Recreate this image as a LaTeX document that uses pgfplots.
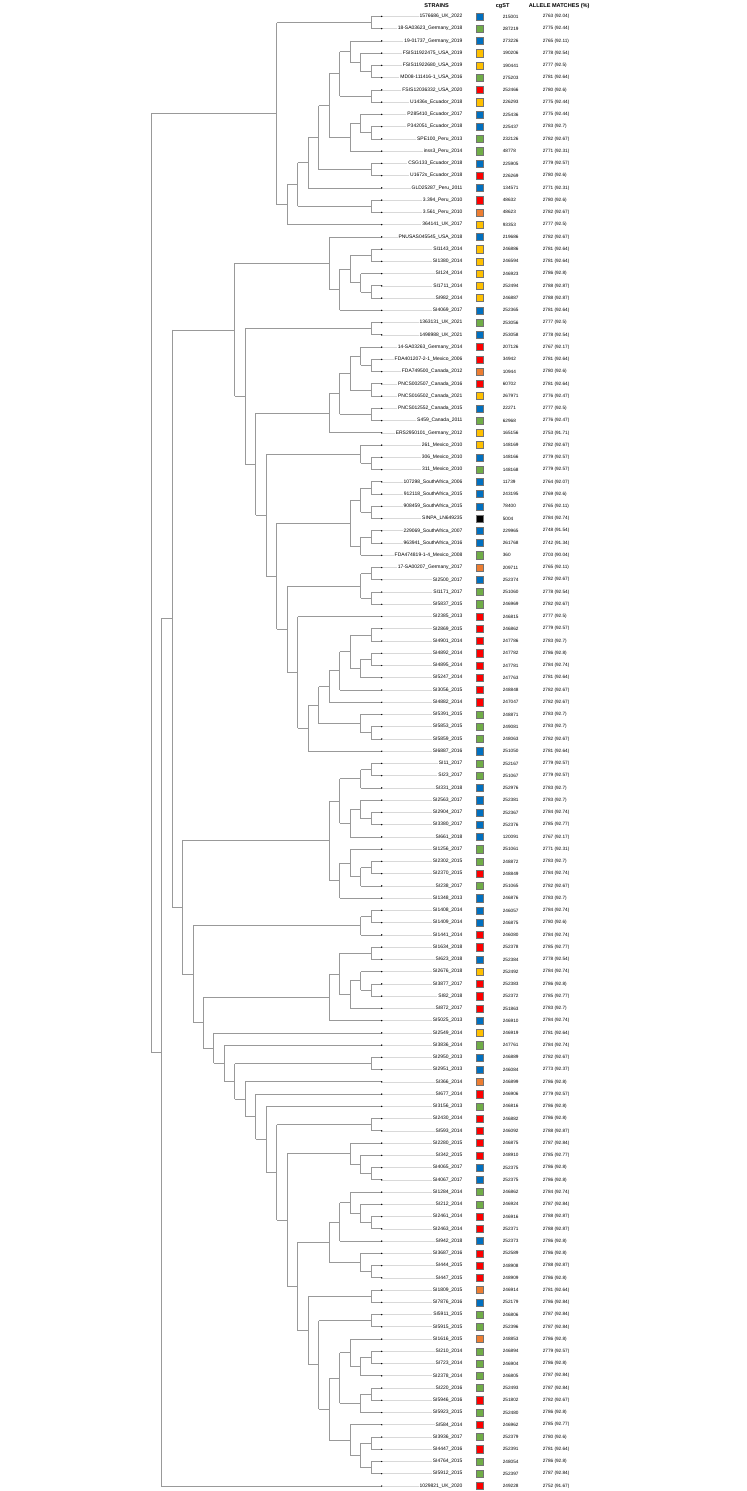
\documentclass[border=0pt]{standalone}
\usepackage{fontspec}
\setmainfont{Liberation Sans}
\usepackage{pgfplots}
\usepackage{pgfplotstable}
\pgfplotsset{compat=1.18}
\definecolor{cblue}{HTML}{0070C0}
\definecolor{cgreen}{HTML}{70AD47}
\definecolor{cyellow}{HTML}{FFC000}
\definecolor{cred}{HTML}{FF0000}
\definecolor{corange}{HTML}{ED7D31}
\definecolor{treec}{HTML}{999999}
\definecolor{alignc}{HTML}{D9D9D9}

\pgfplotstableread[col sep=comma]{
i,name,c,cgst,al
1,1576686\_UK\_2022,b,215001,2763 (92.04)
2,18-SA03623\_Germany\_2018,g,287219,2775 (92.44)
3,19-01737\_Germany\_2019,b,273226,2765 (92.11)
4,FSIS11922475\_USA\_2019,y,190206,2778 (92.54)
5,FSIS11922680\_USA\_2019,y,190441,2777 (92.5)
6,MD08-111416-1\_USA\_2016,g,275203,2781 (92.64)
7,FSIS12036332\_USA\_2020,r,252466,2780 (92.6)
8,U1436s\_Ecuador\_2018,y,226293,2775 (92.44)
9,P285410\_Ecuador\_2017,b,225436,2775 (92.44)
10,P342051\_Ecuador\_2018,b,225437,2783 (92.7)
11,SPE100\_Peru\_2013,g,232126,2782 (92.67)
12,inss3\_Peru\_2014,g,48778,2771 (92.31)
13,CSG133\_Ecuador\_2018,b,225905,2779 (92.57)
14,U1672s\_Ecuador\_2018,r,226269,2780 (92.6)
15,GLD25287\_Peru\_2011,b,134571,2771 (92.31)
16,3.394\_Peru\_2010,r,48632,2780 (92.6)
17,3.561\_Peru\_2010,o,48623,2782 (92.67)
18,364141\_UK\_2017,y,93353,2777 (92.5)
19,PNUSAS045545\_USA\_2018,b,219686,2782 (92.67)
20,SI1143\_2014,y,246886,2781 (92.64)
21,SI1380\_2014,y,246594,2781 (92.64)
22,SI124\_2014,y,246923,2786 (92.8)
23,SI1711\_2014,y,252494,2788 (92.87)
24,SI982\_2014,y,246887,2788 (92.87)
25,SI4069\_2017,b,252365,2781 (92.64)
26,1363131\_UK\_2021,g,253056,2777 (92.5)
27,1498988\_UK\_2021,b,253058,2778 (92.54)
28,14-SA03263\_Germany\_2014,r,207126,2767 (92.17)
29,FDA401207-2-1\_Mexico\_2006,r,34942,2781 (92.64)
30,FDA749500\_Canada\_2012,o,10944,2780 (92.6)
31,PNCS002507\_Canada\_2016,r,60702,2781 (92.64)
32,PNCS016502\_Canada\_2021,y,267971,2776 (92.47)
33,PNCS012552\_Canada\_2015,b,22271,2777 (92.5)
34,S459\_Canada\_2011,g,62968,2776 (92.47)
35,ERS2950101\_Germany\_2012,y,165156,2753 (91.71)
36,261\_Mexico\_2010,y,148169,2782 (92.67)
37,306\_Mexico\_2010,b,148166,2779 (92.57)
38,311\_Mexico\_2010,g,148168,2779 (92.57)
39,107298\_SouthAfrica\_2006,b,11739,2764 (92.07)
40,912118\_SouthAfrica\_2015,b,243195,2769 (92.6)
41,908459\_SouthAfrica\_2015,b,78400,2765 (92.11)
42,SINPA\_LN649235,k,5004,2784 (92.74)
43,229069\_SouthAfrica\_2007,b,229965,2748 (91.54)
44,963941\_SouthAfrica\_2016,b,261768,2742 (91.34)
45,FDA474819-1-4\_Mexico\_2008,g,360,2703 (90.04)
46,17-SA00207\_Germany\_2017,o,209711,2765 (92.11)
47,SI2500\_2017,b,252374,2782 (92.67)
48,SI1171\_2017,g,251060,2778 (92.54)
49,SI5837\_2015,g,246969,2782 (92.67)
50,SI2385\_2013,r,246815,2777 (92.5)
51,SI2869\_2015,r,246862,2779 (92.57)
52,SI4901\_2014,r,247786,2783 (92.7)
53,SI4892\_2014,r,247782,2786 (92.8)
54,SI4895\_2014,r,247781,2784 (92.74)
55,SI5247\_2014,r,247763,2781 (92.64)
56,SI3056\_2015,r,248848,2782 (92.67)
57,SI4882\_2014,r,247047,2782 (92.67)
58,SI5391\_2015,g,248871,2783 (92.7)
59,SI5853\_2015,g,249081,2783 (92.7)
60,SI5859\_2015,g,248063,2782 (92.67)
61,SI6887\_2016,b,251050,2781 (92.64)
62,SI11\_2017,g,252167,2779 (92.57)
63,SI23\_2017,g,251067,2779 (92.57)
64,SI331\_2018,b,252976,2783 (92.7)
65,SI2563\_2017,b,252381,2783 (92.7)
66,SI2904\_2017,b,252367,2784 (92.74)
67,SI3380\_2017,b,252376,2785 (92.77)
68,SI661\_2018,b,120091,2767 (92.17)
69,SI1256\_2017,g,251061,2771 (92.31)
70,SI2302\_2015,g,248872,2783 (92.7)
71,SI2370\_2015,r,248849,2784 (92.74)
72,SI238\_2017,g,251065,2782 (92.67)
73,SI1348\_2013,b,246876,2783 (92.7)
74,SI1408\_2014,b,246057,2784 (92.74)
75,SI1409\_2014,b,246875,2780 (92.6)
76,SI1441\_2014,r,246080,2784 (92.74)
77,SI1634\_2018,r,252378,2785 (92.77)
78,SI623\_2018,b,252384,2778 (92.54)
79,SI2676\_2018,y,252492,2784 (92.74)
80,SI3877\_2017,r,252383,2786 (92.8)
81,SI82\_2018,r,252372,2785 (92.77)
82,SI872\_2017,r,251863,2783 (92.7)
83,SI5025\_2013,b,246910,2784 (92.74)
84,SI2549\_2014,y,246919,2781 (92.64)
85,SI3836\_2014,g,247761,2784 (92.74)
86,SI2950\_2013,b,246889,2782 (92.67)
87,SI2951\_2013,b,246084,2773 (92.37)
88,SI366\_2014,o,246899,2786 (92.8)
89,SI677\_2014,r,246906,2779 (92.57)
90,SI3156\_2013,g,246816,2786 (92.8)
91,SI2430\_2014,r,246882,2786 (92.8)
92,SI593\_2014,r,246092,2788 (92.87)
93,SI2280\_2015,r,246875,2787 (92.84)
94,SI342\_2015,r,248910,2785 (92.77)
95,SI4065\_2017,b,252375,2786 (92.8)
96,SI4067\_2017,b,252375,2786 (92.8)
97,SI1284\_2014,g,246862,2784 (92.74)
98,SI212\_2014,g,246924,2787 (92.84)
99,SI2461\_2014,r,246916,2788 (92.87)
100,SI2463\_2014,r,252371,2788 (92.87)
101,SI942\_2018,b,252373,2786 (92.8)
102,SI3687\_2016,r,252589,2786 (92.8)
103,SI444\_2015,r,248908,2788 (92.87)
104,SI447\_2015,r,248909,2786 (92.8)
105,SI1809\_2015,o,246914,2781 (92.64)
106,SI7876\_2016,b,252179,2786 (92.84)
107,SI5911\_2015,g,246806,2787 (92.84)
108,SI5915\_2015,g,252396,2787 (92.84)
109,SI1616\_2015,o,248853,2786 (92.8)
110,SI210\_2014,g,246894,2779 (92.57)
111,SI723\_2014,g,246904,2786 (92.8)
112,SI2378\_2014,g,246805,2787 (92.84)
113,SI220\_2016,g,252493,2787 (92.84)
114,SI5946\_2016,r,251802,2782 (92.67)
115,SI5923\_2015,g,252480,2786 (92.8)
116,SI584\_2014,r,246962,2785 (92.77)
117,SI3936\_2017,g,252379,2780 (92.6)
118,SI4447\_2016,r,252391,2781 (92.64)
119,SI4764\_2015,g,248054,2786 (92.8)
120,SI5912\_2015,g,252397,2787 (92.84)
121,1029821\_UK\_2020,r,249228,2752 (91.67)
}\leaves

% tree edges: child (x,y) -> parent (px,py); x = 382 - 10.5*height, y = leaf index
\pgfplotstableread{
x y px py
382 1 371.5 1.5
382 2 371.5 1.5
371.5 1.5 277 8.9307
382 5 371.5 5.5
382 6 371.5 5.5
371.5 5.5 361 4.75
382 4 361 4.75
361 4.75 350.5 3.875
382 3 350.5 3.875
350.5 3.875 340 5.6875
382 7 371.5 7.5
382 8 371.5 7.5
371.5 7.5 340 5.6875
340 5.6875 329.5 8.28125
382 10 371.5 10.5
382 11 371.5 10.5
371.5 10.5 361 9.75
382 9 361 9.75
361 9.75 350.5 10.875
382 12 350.5 10.875
350.5 10.875 329.5 8.28125
329.5 8.28125 319 10.890625
382 13 371.5 13.5
382 14 371.5 13.5
371.5 13.5 319 10.890625
319 10.890625 308.5 12.9453
382 15 308.5 12.9453
308.5 12.9453 298 14.7227
382 16 371.5 16.5
382 17 371.5 16.5
371.5 16.5 298 14.7227
298 14.7227 287.5 16.3613
382 18 287.5 16.3613
287.5 16.3613 277 8.9307
277 8.9307 151 47.26
382 20 371.5 20.5
382 21 371.5 20.5
382 23 371.5 23.5
382 24 371.5 23.5
371.5 23.5 361 22.75
382 22 361 22.75
371.5 20.5 350.5 21.625
361 22.75 350.5 21.625
350.5 21.625 340 23.3125
382 25 340 23.3125
340 23.3125 329.5 21.156
382 19 329.5 21.156
329.5 21.156 235 26.595
382 26 371.5 26.5
382 27 371.5 26.5
371.5 26.5 245.5 32.033
382 29 371.5 29.5
382 30 371.5 29.5
371.5 29.5 361 28.75
382 28 361 28.75
382 31 371.5 31.5
382 32 371.5 31.5
361 28.75 350.5 30.125
371.5 31.5 350.5 30.125
350.5 30.125 340 31.8125
382 33 371.5 33.5
382 34 371.5 33.5
371.5 33.5 340 31.8125
340 31.8125 329.5 33.406
382 35 329.5 33.406
329.5 33.406 256 37.566
382 37 371.5 37.5
382 38 371.5 37.5
371.5 37.5 361 36.75
382 36 361 36.75
361 36.75 266.5 41.726
382 39 371.5 39.5
382 40 371.5 39.5
382 41 371.5 41.5
382 42 371.5 41.5
371.5 39.5 361 40.5
371.5 41.5 361 40.5
382 43 371.5 43.5
382 44 371.5 43.5
371.5 43.5 361 44.25
382 45 361 44.25
361 40.5 350.5 42.375
361 44.25 350.5 42.375
350.5 42.375 277 46.702
382 46 371.5 46.5
382 47 371.5 46.5
382 48 371.5 48.5
382 49 371.5 48.5
371.5 46.5 361 47.5
371.5 48.5 361 47.5
361 47.5 287.5 51.029
382 50 298 54.559
382 51 371.5 51.5
382 52 371.5 51.5
382 53 371.5 53.5
382 54 371.5 53.5
371.5 53.5 361 54.25
382 55 361 54.25
371.5 51.5 350.5 52.875
361 54.25 350.5 52.875
350.5 52.875 340 54.4375
382 56 340 54.4375
340 54.4375 329.5 55.719
382 57 329.5 55.719
329.5 55.719 319 57.234
382 59 371.5 59.5
382 60 371.5 59.5
371.5 59.5 361 58.75
382 58 361 58.75
361 58.75 319 57.234
319 57.234 308.5 59.117
382 61 308.5 59.117
308.5 59.117 298 54.559
298 54.559 287.5 51.029
287.5 51.029 277 46.702
277 46.702 266.5 41.726
266.5 41.726 256 37.566
256 37.566 245.5 32.033
245.5 32.033 235 26.595
235 26.595 172 50.178
382 62 371.5 62.5
382 63 371.5 62.5
371.5 62.5 361 63.25
382 64 361 63.25
382 66 371.5 66.5
382 67 371.5 66.5
371.5 66.5 361 65.75
382 65 361 65.75
361 65.75 350.5 66.875
382 68 350.5 66.875
361 63.25 340 65.0625
350.5 66.875 340 65.0625
340 65.0625 329.5 68.3125
382 70 371.5 70.5
382 71 371.5 70.5
371.5 70.5 361 71.25
382 72 361 71.25
361 71.25 350.5 70.125
382 69 350.5 70.125
350.5 70.125 340 71.5625
382 73 340 71.5625
340 71.5625 329.5 68.3125
329.5 68.3125 182.5 73.7608
382 74 371.5 74.5
382 75 371.5 74.5
371.5 74.5 361 75.25
382 76 361 75.25
361 75.25 193 79.209
382 77 371.5 77.5
382 78 371.5 77.5
382 80 371.5 80.5
382 81 371.5 80.5
371.5 80.5 361 79.75
382 79 361 79.75
361 79.75 350.5 80.875
382 82 350.5 80.875
371.5 77.5 340 79.1875
350.5 80.875 340 79.1875
340 79.1875 329.5 81.094
382 83 329.5 81.094
329.5 81.094 203.5 83.167
382 84 214 85.240
382 85 224.5 86.481
382 86 371.5 86.5
382 87 371.5 86.5
371.5 86.5 235 87.962
382 88 245.5 89.424
382 89 256 90.848
382 90 266.5 92.697
382 91 371.5 91.5
382 92 371.5 91.5
371.5 91.5 277 95.393
382 95 371.5 95.5
382 96 371.5 95.5
371.5 95.5 361 94.75
382 94 361 94.75
361 94.75 350.5 93.875
382 93 350.5 93.875
350.5 93.875 287.5 99.287
382 99 371.5 99.5
382 100 371.5 99.5
371.5 99.5 361 98.75
382 98 361 98.75
361 98.75 350.5 97.875
382 97 350.5 97.875
350.5 97.875 340 99.4375
382 101 340 99.4375
340 99.4375 329.5 101.094
382 103 371.5 103.5
382 104 371.5 103.5
371.5 103.5 361 102.75
382 102 361 102.75
361 102.75 329.5 101.094
329.5 101.094 298 104.699
382 105 371.5 105.5
382 106 371.5 105.5
371.5 105.5 308.5 108.305
382 107 371.5 107.5
382 108 371.5 107.5
371.5 107.5 319 111.109
382 110 371.5 110.5
382 111 371.5 110.5
371.5 110.5 361 111.25
382 112 361 111.25
361 111.25 350.5 110.125
382 109 350.5 110.125
382 113 371.5 113.5
382 114 371.5 113.5
371.5 113.5 361 114.25
382 115 361 114.25
350.5 110.125 340 112.1875
361 114.25 340 112.1875
382 117 371.5 117.5
382 118 371.5 117.5
382 119 371.5 119.5
382 120 371.5 119.5
371.5 117.5 361 118.5
371.5 119.5 361 118.5
361 118.5 350.5 117.25
382 116 350.5 117.25
340 112.1875 329.5 114.719
350.5 117.25 329.5 114.719
329.5 114.719 319 111.109
319 111.109 308.5 108.305
308.5 108.305 298 104.699
298 104.699 287.5 99.287
287.5 99.287 277 95.393
277 95.393 266.5 92.697
266.5 92.697 256 90.848
256 90.848 245.5 89.424
245.5 89.424 235 87.962
235 87.962 224.5 86.481
224.5 86.481 214 85.240
214 85.240 203.5 83.167
203.5 83.167 193 79.209
193 79.209 182.5 73.7608
182.5 73.7608 172 50.178
172 50.178 161.5 85.589
382 121 161.5 85.589
161.5 85.589 151 47.26
}\edges
\pgfplotstablecreatecol[create col/expr={\thisrow{px}-\thisrow{x}}]{u}{\edges}
\pgfplotstablecreatecol[create col/expr={\thisrow{py}-\thisrow{y}}]{v}{\edges}

\begin{document}
\begin{tikzpicture}
\begin{axis}[
  scale only axis, width=747bp, height=1491bp,
  xmin=0, xmax=747, ymin=-0.265, ymax=121.41, y dir=reverse,
  hide axis, clip=false,
]
% keep the full frame as bounding box
\path (rel axis cs:0,0) rectangle (rel axis cs:1,1);
% alignment lines tip -> label
\addplot[alignc, line width=0.6pt, quiver={u=81, v=0}] table[x expr=382, y=i] {\leaves};
% tree: horizontal parts
\addplot[treec, line width=0.75pt, quiver={u=\thisrow{u}, v=0}] table[x=x, y=y] {\edges};
% tree: vertical parts
\addplot[treec, line width=0.75pt, quiver={u=0, v=\thisrow{v}}] table[x=px, y=y] {\edges};
% tip dots
\addplot[only marks, mark=*, mark size=0.45pt, black] table[x expr=382, y=i] {\leaves};
% strain labels
\addplot[draw=none, mark=none, nodes near coords, point meta=explicit symbolic,
  every node near coord/.append style={anchor=east, font=\fontsize{5}{6}\selectfont, fill=white, inner xsep=1pt, inner ysep=0.5pt}]
  table[x expr=464, y=i, meta=name] {\leaves};
% colour squares
\addplot[scatter, only marks, scatter src=explicit symbolic,
  scatter/classes={
    b={mark=square*, mark size=3.6pt, fill=cblue, draw=black!55},
    g={mark=square*, mark size=3.6pt, fill=cgreen, draw=black!55},
    y={mark=square*, mark size=3.6pt, fill=cyellow, draw=black!55},
    r={mark=square*, mark size=3.6pt, fill=cred, draw=black!55},
    o={mark=square*, mark size=3.6pt, fill=corange, draw=black!55},
    k={mark=square*, mark size=3.6pt, fill=black, draw=black!55}}]
  table[x expr=480, y=i, meta=c] {\leaves};
% cgST
\addplot[draw=none, mark=none, nodes near coords, point meta=explicit symbolic,
  every node near coord/.append style={anchor=west, font=\fontsize{4.7}{6}\selectfont, inner sep=0pt}]
  table[x expr=503, y=i, meta=cgst] {\leaves};
% allele matches
\addplot[draw=none, mark=none, nodes near coords, point meta=explicit symbolic,
  every node near coord/.append style={anchor=west, font=\fontsize{4.7}{6}\selectfont, inner sep=0pt}]
  table[x expr=543, y=i, meta=al] {\leaves};
% headers
\node[font=\fontsize{5.6}{6}\selectfont\bfseries] at (axis cs:437,0.14) {STRAINS};
\node[font=\fontsize{5.6}{6}\selectfont\bfseries] at (axis cs:503,0.14) {cgST};
\node[font=\fontsize{5.6}{6}\selectfont\bfseries] at (axis cs:559.5,0.14) {ALLELE MATCHES (\%)};
\end{axis}
\end{tikzpicture}
\end{document}
